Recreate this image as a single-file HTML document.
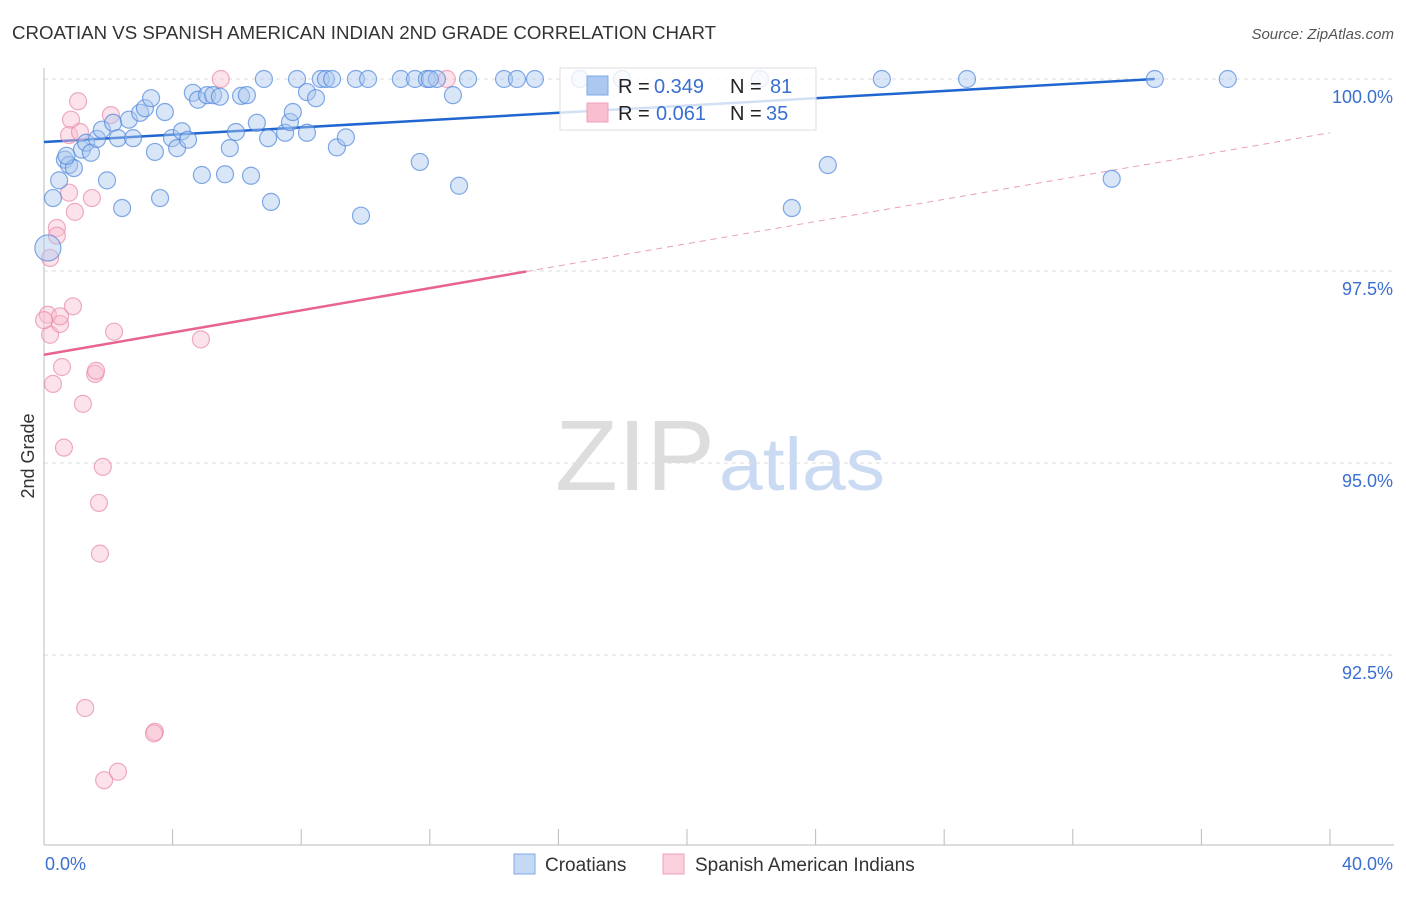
<!DOCTYPE html>
<html><head><meta charset="utf-8"><style>
body{margin:0;background:#fff;font-family:"Liberation Sans",sans-serif;}
svg text{font-family:"Liberation Sans",sans-serif;}
</style></head><body>
<svg id="chart" width="1406" height="892" xmlns="http://www.w3.org/2000/svg">
<text x="12" y="39" font-size="18" fill="#333" textLength="704" lengthAdjust="spacingAndGlyphs">CROATIAN VS SPANISH AMERICAN INDIAN 2ND GRADE CORRELATION CHART</text>
<text x="1394" y="39" font-size="15" fill="#555" font-style="italic" text-anchor="end">Source: ZipAtlas.com</text>
<text x="34" y="456" font-size="18" fill="#333" transform="rotate(-90 34 456)" text-anchor="middle">2nd Grade</text>
<g>
<text x="635" y="490" font-size="100" font-family="Liberation Serif,serif" fill="#ddd" text-anchor="middle" textLength="160" lengthAdjust="spacingAndGlyphs">ZIP</text>
<text x="802" y="490" font-size="74" fill="#c9daf2" text-anchor="middle" textLength="166" lengthAdjust="spacingAndGlyphs">atlas</text>
</g>
<g id="grid"></g><g id="axes"></g><g id="lines"></g><g id="pts"></g>
<g>
<rect x="560" y="68" width="256" height="62" fill="#fff" fill-opacity="0.8" stroke="#ddd"/>
<rect x="587" y="76" width="21" height="19" fill="#aac8f0" stroke="#7fa9e6"/>
<text x="618" y="93" font-size="20" fill="#222">R =</text>
<text x="654" y="93" font-size="20" fill="#3a6fd0">0.349</text>
<text x="730" y="93" font-size="20" fill="#222">N =</text>
<text x="770" y="93" font-size="20" fill="#3a6fd0">81</text>
<rect x="587" y="103" width="21" height="19" fill="#f8bfd0" stroke="#eea0b8"/>
<text x="618" y="120" font-size="20" fill="#222">R =</text>
<text x="656" y="120" font-size="20" fill="#3a6fd0">0.061</text>
<text x="730" y="120" font-size="20" fill="#222">N =</text>
<text x="766" y="120" font-size="20" fill="#3a6fd0">35</text>
</g>
<g>
<rect x="514" y="854" width="21" height="20" fill="#c5d9f5" stroke="#7fa9e6"/>
<text x="545" y="871" font-size="19" fill="#333">Croatians</text>
<rect x="663" y="854" width="21" height="20" fill="#fbd0dc" stroke="#eea0b8"/>
<text x="695" y="871" font-size="19" fill="#333">Spanish American Indians</text>
</g>
</svg>
<script>
const blueX=[0.28,0.47,0.65,0.78,0.93,1.18,1.31,1.46,1.65,1.80,1.96,2.15,2.30,2.43,2.64,2.77,2.99,3.14,3.33,3.45,3.61,3.76,3.98,4.14,4.29,4.48,4.63,4.79,4.91,5.07,5.26,5.47,5.63,5.78,5.97,6.13,6.31,6.44,6.62,6.84,6.97,7.06,7.50,7.65,7.74,7.87,8.18,8.18,8.46,8.61,8.77,8.96,9.11,9.39,9.70,9.86,10.08,11.10,11.54,11.69,11.91,12.22,12.72,12.91,13.19,14.31,14.71,15.27,16.67,17.98,22.27,23.26,24.38,26.06,28.71,33.21,34.55,36.82,0.12,0.70,12.0];
const blueY=[98.45,98.68,98.95,98.88,98.84,99.08,99.17,99.04,99.22,99.34,98.68,99.43,99.23,98.32,99.47,99.23,99.56,99.62,99.75,99.05,98.45,99.57,99.23,99.10,99.32,99.21,99.82,99.73,98.75,99.79,99.79,99.77,98.76,99.10,99.31,99.78,99.79,98.74,99.43,100,99.23,98.40,99.30,99.44,99.57,100,99.30,99.83,99.75,100,100,100,99.11,99.24,100,98.22,100,100,100,98.92,100,100,99.79,98.61,100,100,100,100,100,100,100,98.32,98.88,100,100,98.70,100,100,97.80,99.0,100];
const pinkX=[0.19,0.12,0.19,0.28,0.40,0.50,0.56,0.62,0.78,0.84,0.90,0.96,0.78,1.06,1.12,1.21,1.28,1.49,1.59,1.62,1.71,1.74,1.83,1.87,2.08,2.18,2.30,3.45,4.88,5.50,12.53,0.50,0.0,0.40,3.42];
const pinkY=[97.67,96.93,96.67,96.03,98.06,96.81,96.25,95.20,98.52,99.47,97.04,98.27,99.27,99.71,99.31,95.77,91.81,98.45,96.16,96.20,94.48,93.82,94.95,90.87,99.53,96.71,90.98,91.50,96.61,100,100,96.91,96.86,97.96,91.48];
const yTicks=[100,97.5,95,92.5];
const yTickLabels=["100.0%","97.5%","95.0%","92.5%"];
const blueTrend=[99.18,100.0];
const blueTrendEnd=34.55;
const pinkTrend=[96.41,99.30];
const pinkSolidEnd=15.0;
const X=v=>44+v/40*1286, Y=v=>79+(100-v)/2.5*192;
const NS="http://www.w3.org/2000/svg";
function mk(p,t,a){const e=document.createElementNS(NS,t);for(const k in a)e.setAttribute(k,a[k]);p.appendChild(e);return e;}
const grid=document.getElementById('grid'),axes=document.getElementById('axes'),lines=document.getElementById('lines'),pts=document.getElementById('pts');
yTicks.forEach((t,i)=>{
 const g=mk(grid,'line',{x1:44,x2:1394,y1:Y(t),y2:Y(t),stroke:'#ddd','stroke-dasharray':'4,4'});
 
 
 const l=mk(grid,'text',{x:1393,y:Y(t)+24,'font-size':18,fill:'#3a6fd0','text-anchor':'end'});
 l.textContent=yTickLabels[i];
 
 
});
const ya=mk(axes,'line',{x1:44,x2:44,y1:68,y2:845,stroke:'#bbb'});


const xa=mk(axes,'line',{x1:44,x2:1394,y1:845,y2:845,stroke:'#bbb'});


for(let i=0;i<=10;i++){const t=mk(axes,'line',{x1:X(i*4),x2:X(i*4),y1:829,y2:845,stroke:'#bbb'});
 
 }
const x0=mk(axes,'text',{x:45,y:870,'font-size':18,fill:'#3a6fd0'});x0.textContent='0.0%';


const x1=mk(axes,'text',{x:1393,y:870,'font-size':18,fill:'#3a6fd0','text-anchor':'end'});x1.textContent='40.0%';


function dot(x,y,r,fill,stroke,name){const c=mk(pts,'circle',{cx:X(x),cy:Y(y),r:r,fill:fill,'fill-opacity':0.45,stroke:stroke,'stroke-opacity':0.7,'stroke-width':1.2});
 
 }
pinkX.forEach((x,i)=>dot(x,pinkY[i],8.5,'#f8bfd0','#e88aa8','spanish-point'));
blueX.forEach((x,i)=>dot(x,blueY[i],i==78?13:8.5,'#aac8f0','#4f86dc','croatian-point'));
const by=x=>blueTrend[0]+(blueTrend[1]-blueTrend[0])*x/blueTrendEnd;
const bl=mk(lines,'line',{x1:X(0),y1:Y(by(0)),x2:X(blueTrendEnd),y2:Y(by(blueTrendEnd)),stroke:'#1f66d0','stroke-width':2.5});


const py=x=>pinkTrend[0]+(pinkTrend[1]-pinkTrend[0])*x/40;
const pl=mk(lines,'line',{x1:X(0),y1:Y(py(0)),x2:X(pinkSolidEnd),y2:Y(py(pinkSolidEnd)),stroke:'#e8638f','stroke-width':2.5});


const pd=mk(lines,'line',{x1:X(pinkSolidEnd),y1:Y(py(pinkSolidEnd)),x2:X(40),y2:Y(py(40)),stroke:'#e8a0b8','stroke-width':1,'stroke-dasharray':'6,5'});


</script>
</body></html>
